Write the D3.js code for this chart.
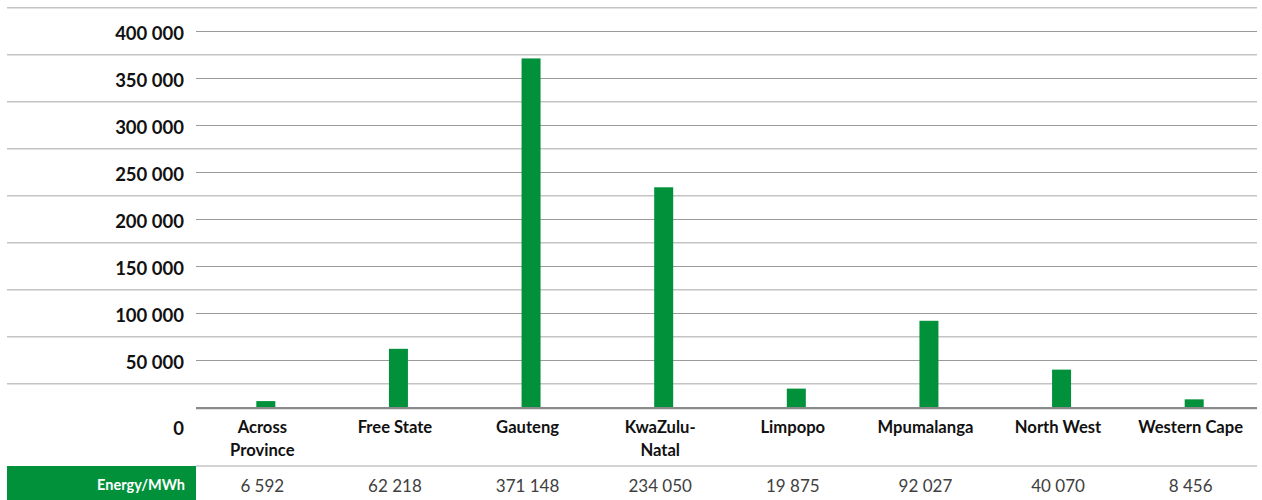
<!DOCTYPE html>
<html><head><meta charset="utf-8">
<script src="https://cdn.jsdelivr.net/npm/d3@7"></script>
<style>body{margin:0;background:#fff}svg{display:block}text{font-family:Lato,"Open Sans",sans-serif}</style>
</head><body><svg id="c" width="1262" height="500"></svg>
<script>
const categories = ["Across Province","Free State","Gauteng","KwaZulu-Natal","Limpopo","Mpumalanga","North West","Western Cape"];
const labelLines = [["Across","Province"],["Free State"],["Gauteng"],["KwaZulu-","Natal"],["Limpopo"],["Mpumalanga"],["North West"],["Western Cape"]];
const energy = [6592, 62218, 371148, 234050, 19875, 92027, 40070, 8456];
const yTicks = [0, 50000, 100000, 150000, 200000, 250000, 300000, 350000, 400000];
const seriesName = "Energy/MWh";

const svg = d3.select("#c");
const green = "#00913a";
const x = d3.scaleBand().domain(categories).range([196, 1257]).padding(0);
const y = d3.scaleLinear().domain([0, 400000]).range([407.3, 31.3]);
const fmt = v => d3.format(",")(v).replace(/,/g, " ");

// row separator lines (half steps between ticks)
const halfSteps = yTicks.map(v => v + 25000);
svg.append("g").selectAll("line").data(halfSteps).join("line")
  .attr("x1", 7).attr("x2", 1257).attr("y1", d => y(d)).attr("y2", d => y(d))
  .attr("stroke", "#c4c4c4").attr("stroke-width", 1.5);

// gridlines
svg.append("g").selectAll("line").data(yTicks.filter(v => v > 0)).join("line")
  .attr("x1", 196).attr("x2", 1257).attr("y1", d => Math.round(y(d)) + 0.5).attr("y2", d => Math.round(y(d)) + 0.5)
  .attr("stroke", "#9a9a9a").attr("stroke-width", 1);

// bars
const bw = 19;
svg.append("g").selectAll("rect").data(categories).join("rect")
  .attr("x", (d) => x(d) + x.bandwidth() / 2 - bw / 2 + 3.5)
  .attr("width", bw)
  .attr("y", (d, i) => y(energy[i]))
  .attr("height", (d, i) => y(0) - y(energy[i]))
  .attr("fill", green);

// baseline
svg.append("line").attr("x1", 196).attr("x2", 1257).attr("y1", y(0) + 0.8).attr("y2", y(0) + 0.8)
  .attr("stroke", "#8a8a8a").attr("stroke-width", 2.2);

// y tick labels
svg.append("g").selectAll("text").data(yTicks).join("text")
  .attr("x", 184).attr("y", d => d === 0 ? y(0) + 21 : y(d) + 1.5)
  .attr("text-anchor", "end").attr("dominant-baseline", "central")
  .attr("font-weight", "bold").attr("font-size", 18.5).attr("fill", "#111")
  .text(d => fmt(d));

// category labels
const cg = svg.append("g");
categories.forEach((c, i) => {
  const t = cg.append("text").attr("x", x(c) + x.bandwidth() / 2).attr("text-anchor", "middle")
    .attr("font-weight", "bold").attr("font-size", 16.6).attr("fill", "#111");
  labelLines[i].forEach((ln, j) => {
    t.append("tspan").attr("x", x(c) + x.bandwidth() / 2).attr("y", y(0) + 20 + j * 22.5)
      .attr("dominant-baseline", "central").text(ln);
  });
});

// data table row
svg.append("line").attr("x1", 196).attr("x2", 1257).attr("y1", 466).attr("y2", 466)
  .attr("stroke", "#c4c4c4").attr("stroke-width", 1.5);
svg.append("rect").attr("x", 7).attr("y", 466).attr("width", 189).attr("height", 34).attr("fill", green);
svg.append("text").attr("x", 185).attr("y", 484).attr("text-anchor", "end").attr("dominant-baseline", "central")
  .attr("font-weight", "bold").attr("font-size", 14.5).attr("fill", "#fff").text(seriesName);
svg.append("g").selectAll("text").data(categories).join("text")
  .attr("x", d => x(d) + x.bandwidth() / 2).attr("y", 485.5)
  .attr("text-anchor", "middle").attr("dominant-baseline", "central")
  .attr("font-size", 17).attr("fill", "#404040")
  .text((d, i) => fmt(energy[i]));
</script></body></html>
